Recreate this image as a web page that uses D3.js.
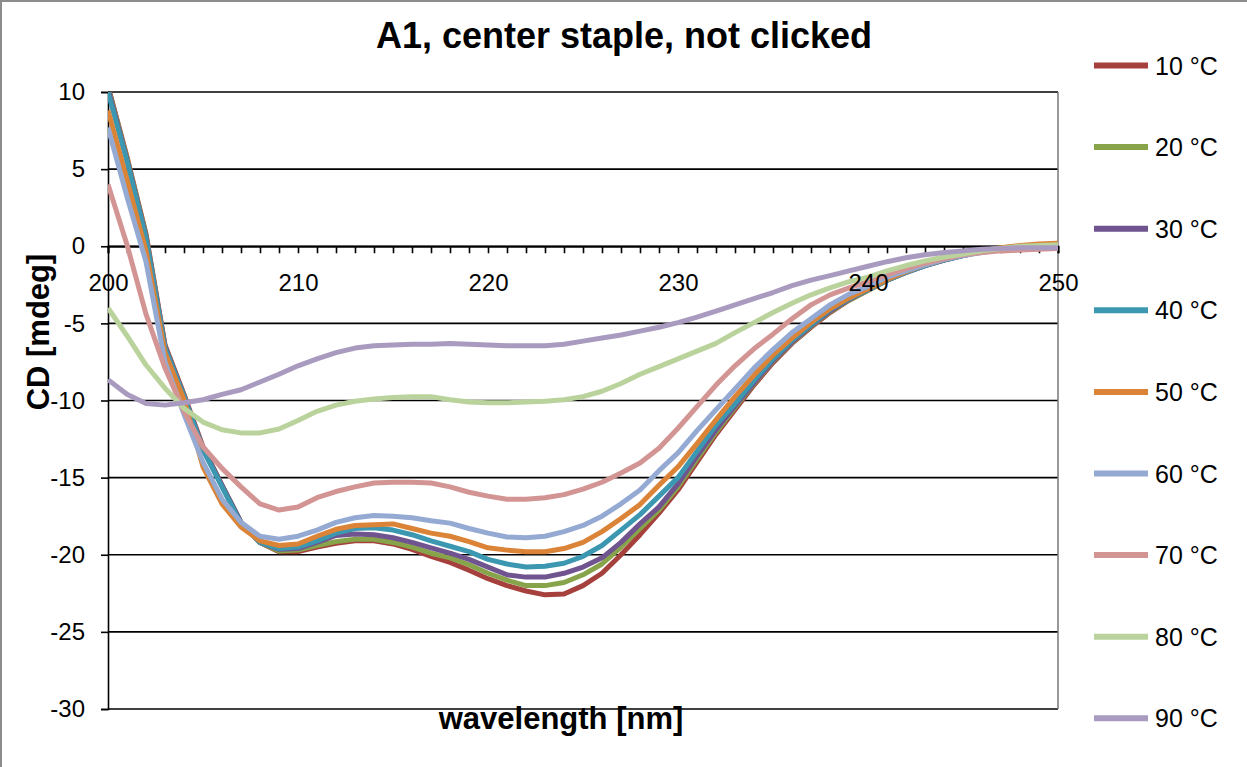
<!DOCTYPE html>
<html>
<head>
<meta charset="utf-8">
<script src="https://cdn.jsdelivr.net/npm/d3@7"></script>
<style>
  html, body { margin: 0; padding: 0; background: #fff; }
  svg { display: block; font-family: "Liberation Sans", Arial, sans-serif; }
</style>
</head>
<body>
<svg id="chart" width="1247" height="767"></svg>
<script>
// ---- data ----
const wavelengths = [200,201,202,203,204,205,206,207,208,209,210,211,212,213,214,215,216,217,218,219,220,221,222,223,224,225,226,227,228,229,230,231,232,233,234,235,236,237,238,239,240,241,242,243,244,245,246,247,248,249,250];
const seriesNames = ["10 °C","20 °C","30 °C","40 °C","50 °C","60 °C","70 °C","80 °C","90 °C"];
const s10 = [10.4,5.8,0.8,-6.4,-9.6,-13.0,-15.5,-17.9,-19.2,-19.8, -19.8,-19.5,-19.25,-19.1,-19.1,-19.3,-19.65,-20.1,-20.5,-21.0, -21.55,-22.0,-22.35,-22.6,-22.55,-22.0,-21.2,-20.0,-18.7,-17.3, -15.8,-14.0,-12.2,-10.6,-9.0,-7.55,-6.3,-5.25,-4.3,-3.5, -2.85,-2.2,-1.7,-1.25,-0.9,-0.6,-0.35,-0.2,-0.1,-0.05,0.0];
const s20 = [10.3,5.7,0.7,-6.5,-9.7,-13.1,-15.5,-17.9,-19.2,-19.75, -19.7,-19.4,-19.15,-19.0,-19.0,-19.2,-19.5,-19.9,-20.2,-20.65, -21.2,-21.65,-22.0,-22.0,-21.8,-21.3,-20.6,-19.5,-18.3,-17.1, -15.6,-13.8,-12.05,-10.45,-8.9,-7.45,-6.25,-5.2,-4.25,-3.5, -2.85,-2.2,-1.65,-1.2,-0.85,-0.55,-0.3,-0.1,0.0,0.05,0.1];
const s30 = [10.2,5.6,0.6,-6.5,-9.7,-13.1,-15.5,-17.9,-19.2,-19.65, -19.6,-19.2,-18.75,-18.65,-18.7,-18.9,-19.2,-19.55,-19.9,-20.3, -20.8,-21.3,-21.45,-21.45,-21.2,-20.8,-20.2,-19.2,-18.0,-16.9, -15.4,-13.6,-11.9,-10.35,-8.85,-7.4,-6.2,-5.15,-4.2,-3.45, -2.8,-2.2,-1.7,-1.25,-0.9,-0.6,-0.35,-0.2,-0.1,-0.05,0.0];
const s40 = [10.0,5.5,0.5,-6.6,-9.75,-13.2,-15.6,-18.0,-19.2,-19.6, -19.5,-19.1,-18.6,-18.3,-18.25,-18.4,-18.7,-19.1,-19.45,-19.8, -20.3,-20.6,-20.8,-20.75,-20.55,-20.1,-19.4,-18.4,-17.4,-16.2, -15.0,-13.3,-11.6,-10.2,-8.7,-7.3,-6.1,-5.1,-4.1,-3.4, -2.8,-2.2,-1.7,-1.25,-0.9,-0.6,-0.35,-0.2,-0.1,-0.05,0.0];
const s50 = [8.8,4.3,-0.3,-6.9,-9.95,-14.3,-16.7,-18.2,-19.1,-19.4, -19.3,-18.8,-18.35,-18.1,-18.05,-18.0,-18.3,-18.6,-18.8,-19.15, -19.55,-19.7,-19.8,-19.8,-19.6,-19.2,-18.5,-17.65,-16.75,-15.5, -14.3,-12.8,-11.25,-9.75,-8.35,-7.05,-5.95,-4.95,-4.05,-3.35, -2.75,-2.15,-1.65,-1.2,-0.85,-0.55,-0.3,-0.1,0.05,0.15,0.2];
const s60 = [7.7,3.2,-1.0,-7.5,-10.9,-14.0,-16.4,-17.9,-18.8,-19.0, -18.8,-18.4,-17.9,-17.6,-17.45,-17.5,-17.6,-17.8,-17.95,-18.3, -18.6,-18.85,-18.9,-18.8,-18.5,-18.1,-17.5,-16.7,-15.8,-14.55, -13.4,-11.95,-10.6,-9.25,-7.9,-6.7,-5.6,-4.7,-3.8,-3.1, -2.6,-2.0,-1.6,-1.2,-0.85,-0.6,-0.4,-0.25,-0.15,-0.1,-0.05];
const s70 = [4.0,0.1,-4.4,-7.9,-10.7,-13.0,-14.4,-15.6,-16.7,-17.1, -16.9,-16.3,-15.9,-15.6,-15.35,-15.3,-15.3,-15.35,-15.6,-15.95, -16.2,-16.4,-16.4,-16.3,-16.1,-15.75,-15.3,-14.7,-14.05,-13.1, -11.8,-10.4,-9.0,-7.75,-6.65,-5.7,-4.7,-3.8,-3.15,-2.7, -2.3,-1.85,-1.45,-1.1,-0.8,-0.55,-0.4,-0.3,-0.25,-0.2,-0.15];
const s80 = [-4.0,-5.8,-7.7,-9.2,-10.5,-11.4,-11.9,-12.1,-12.1,-11.85, -11.3,-10.7,-10.3,-10.05,-9.9,-9.8,-9.75,-9.75,-9.95,-10.1, -10.15,-10.15,-10.1,-10.05,-9.95,-9.75,-9.4,-8.9,-8.3,-7.8, -7.3,-6.8,-6.3,-5.6,-4.95,-4.3,-3.7,-3.15,-2.7,-2.3, -2.0,-1.6,-1.25,-0.95,-0.7,-0.5,-0.3,-0.15,0.0,0.05,0.1];
const s90 = [-8.65,-9.6,-10.2,-10.3,-10.15,-9.95,-9.6,-9.3,-8.8,-8.3, -7.75,-7.3,-6.9,-6.6,-6.45,-6.4,-6.35,-6.35,-6.3,-6.35, -6.4,-6.45,-6.45,-6.45,-6.35,-6.15,-5.95,-5.75,-5.5,-5.25, -4.95,-4.6,-4.2,-3.8,-3.4,-3.0,-2.55,-2.2,-1.9,-1.6, -1.3,-1.0,-0.75,-0.55,-0.4,-0.3,-0.2,-0.15,-0.1,-0.1,-0.1];
const seriesValues = [s10,s20,s30,s40,s50,s60,s70,s80,s90];
const colors = ["#A6403D","#87A44A","#6F548F","#3C97B1","#DB8337","#94AAD3","#D39594","#BAD39C","#A99BC0"];
const xTicks = [200,210,220,230,240,250];
const yTicks = [10,5,0,-5,-10,-15,-20,-25,-30];
const title = "A1, center staple, not clicked";
const xTitle = "wavelength [nm]";
const yTitle = "CD [mdeg]";

// ---- layout ----
const svg = d3.select("#chart");
const L = 108, R = 1058, T = 92, B = 709;
const x = d3.scaleLinear().domain([200, 250]).range([L, R]);
const y = d3.scaleLinear().domain([-30, 10]).range([B, T]);

// chart frame (left and top edges visible)
svg.append("line").attr("x1",1).attr("x2",1).attr("y1",0).attr("y2",767).attr("stroke","#8c8c8c").attr("stroke-width",2);
svg.append("line").attr("x1",0).attr("x2",1247).attr("y1",1).attr("y2",1).attr("stroke","#8c8c8c").attr("stroke-width",2);

// gridlines
svg.append("g").selectAll("line").data(yTicks).join("line")
  .attr("x1", L).attr("x2", R)
  .attr("y1", d => y(d)).attr("y2", d => y(d))
  .attr("stroke", "#000").attr("stroke-width", 1.6);

// right plot border
svg.append("line").attr("x1",R).attr("x2",R).attr("y1",T).attr("y2",B).attr("stroke","#777").attr("stroke-width",1.5);

// y axis
const yAxis = d3.axisLeft(y).tickValues(yTicks).tickSize(7).tickPadding(16).tickFormat(d3.format("d"));
const gy = svg.append("g").attr("transform", `translate(${L},0)`).call(yAxis);
gy.select(".domain").attr("stroke","#000").attr("stroke-width",1.6);
gy.selectAll(".tick line").attr("stroke","#000").attr("stroke-width",1.6);
gy.selectAll(".tick text").attr("font-size", 24).attr("fill","#000")
  .attr("font-family", "Liberation Sans, Arial, sans-serif").text(d => d < 0 ? "-" + Math.abs(d) : d);

// x axis at y=0 with minor ticks every nm
const minorTicks = d3.range(200, 251);
const gxm = svg.append("g").attr("transform", `translate(0,${y(0)})`)
  .call(d3.axisBottom(x).tickValues(minorTicks).tickSize(7).tickFormat(""));
gxm.select(".domain").attr("stroke","#000").attr("stroke-width",2);
gxm.selectAll(".tick line").attr("stroke","#000").attr("stroke-width",1.6);

// clip
svg.append("clipPath").attr("id","plotclip").append("rect")
  .attr("x", L).attr("y", T).attr("width", R - L).attr("height", B - T);

// lines
const line = d3.line().x((d, i) => x(wavelengths[i])).y(d => y(d));
svg.append("g").attr("clip-path","url(#plotclip)")
  .selectAll("path").data(seriesValues).join("path")
  .attr("d", d => line(d))
  .attr("fill","none")
  .attr("stroke", (d, i) => colors[i])
  .attr("stroke-width", 5)
  .attr("stroke-linejoin","round")
  .attr("stroke-linecap","butt");

// x tick labels drawn above the lines
const gx = svg.append("g").attr("transform", `translate(0,${y(0)})`)
  .call(d3.axisBottom(x).tickValues(xTicks).tickSize(0).tickPadding(28).tickFormat(d3.format("d")));
gx.select(".domain").remove();
gx.selectAll(".tick text").attr("font-size", 24).attr("fill","#000")
  .attr("font-family", "Liberation Sans, Arial, sans-serif");

// title
svg.append("text").attr("x", 624).attr("y", 48).attr("text-anchor","middle")
  .attr("font-size", 36).attr("font-weight","bold").text(title);
// axis titles
svg.append("text").attr("x", 561).attr("y", 729).attr("text-anchor","middle")
  .attr("font-size", 31).attr("font-weight","bold").text(xTitle);
svg.append("text").attr("transform","translate(49,332) rotate(-90)").attr("text-anchor","middle")
  .attr("font-size", 31).attr("font-weight","bold").text(yTitle);

// legend
const leg = svg.append("g").selectAll("g").data(seriesNames).join("g")
  .attr("transform", (d, i) => `translate(0,${65.5 + i * 81.6})`);
leg.append("line").attr("x1",1094).attr("x2",1148).attr("y1",0).attr("y2",0)
  .attr("stroke",(d, i) => colors[i]).attr("stroke-width",6);
leg.append("text").attr("x",1155).attr("y",9).attr("font-size",25).attr("fill","#000").text(d => d);
</script>
</body>
</html>
